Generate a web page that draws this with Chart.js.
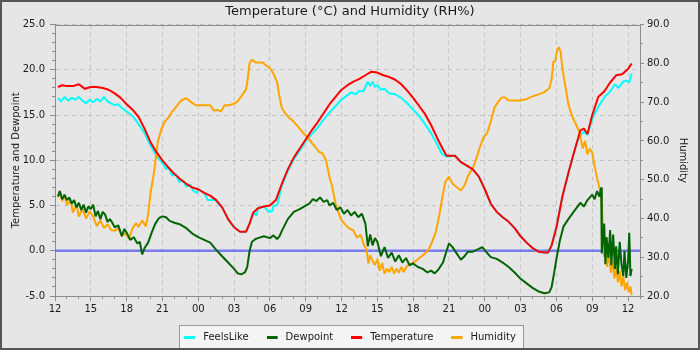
<!DOCTYPE html>
<html>
<head>
<meta charset="utf-8">
<title>Temperature and Humidity</title>
<script src="https://cdn.jsdelivr.net/npm/chart.js@4.4.1/dist/chart.umd.min.js"></script>
<style>
  html, body { margin: 0; padding: 0; background: #e6e6e6; }
  #frame { width: 700px; height: 350px; box-sizing: border-box; border: 2px solid #555; background: #e6e6e6; }
  canvas { display: block; }
</style>
</head>
<body>
<div id="frame"><canvas id="wx" width="696" height="346"></canvas></div>
<script>
// [hours since 12:00 on day one, value]
const feelsLike = [
  [0.25,16.9],[0.5,16.5],[0.8,17.0],[1.1,16.6],[1.4,16.9],[1.7,16.7],[2.0,17.0],[2.3,16.6],[2.6,16.3],[2.9,16.7],
  [3.2,16.4],[3.5,16.8],[3.8,16.5],[4.1,17.0],[4.4,16.5],[4.7,16.3],[5.0,16.1],[5.3,16.2],[5.6,15.8],[6.0,15.4],
  [6.5,14.9],[7.0,14.0],[7.5,13.0],[8.0,11.6],[8.5,10.5],[9.0,9.7],[9.3,9.0],[9.5,9.3],[9.8,8.3],[10.1,8.5],
  [10.4,7.6],[10.7,7.8],[11.0,7.1],[11.3,7.3],[11.6,6.6],[11.9,6.4],[12.0,6.8],[12.5,6.4],[12.8,5.6],[13.2,5.6],
  [13.4,5.6],[14.0,4.8],[14.5,3.5],[15.0,2.6],[15.5,2.1],[16.0,2.1],[16.3,3.0],[16.6,4.2],[16.9,3.9],[17.0,4.7],
  [17.5,4.9],[17.9,4.3],[18.2,4.4],[18.3,5.0],[18.6,5.0],[19.0,7.2],[19.5,8.8],[20.0,10.1],[20.5,11.1],[21.0,12.1],
  [21.5,12.9],[22.0,13.6],[22.5,14.5],[23.0,15.3],[23.5,16.0],[24.0,16.7],[24.5,17.2],[24.8,17.5],[25.2,17.3],[25.5,17.7],
  [25.8,17.6],[26.0,18.1],[26.2,18.7],[26.4,18.2],[26.6,18.7],[26.8,18.1],[27.0,18.3],[27.3,17.8],[27.6,17.9],[28.0,17.4],
  [28.5,17.3],[29.0,16.9],[29.5,16.3],[30.0,15.6],[30.5,14.9],[31.0,14.0],[31.5,13.0],[32.0,11.8],[32.4,10.7],[32.8,10.4],
  [33.5,10.5],[34.0,9.8],[34.5,9.4],[35.0,9.0],[35.5,8.2],[36.0,6.8],[36.5,5.2],[37.0,4.3],[37.5,3.7],[38.0,3.2],
  [38.5,2.5],[39.0,1.6],[39.5,0.9],[40.0,0.3],[40.5,-0.1],[41.0,-0.2],[41.3,-0.2],[41.6,0.6],[42.0,2.6],[42.5,6.0],
  [43.0,8.6],[43.5,11.0],[43.9,12.6],[44.3,13.2],[44.6,12.8],[45.0,14.6],[45.3,15.4],[45.7,16.3],[46.1,17.1],[46.5,17.6],
  [46.9,18.4],[47.2,18.0],[47.6,18.7],[47.9,18.8],[48.1,18.6],[48.3,19.6]
];

const dewpoint = [
  [0.25,6.0],[0.4,6.6],[0.6,5.7],[0.8,6.2],[1.0,5.6],[1.2,5.9],[1.4,5.2],[1.6,5.6],[1.8,4.8],[2.0,5.3],
  [2.2,4.5],[2.4,5.1],[2.6,4.2],[2.8,4.9],[3.0,4.6],[3.2,5.1],[3.4,3.8],[3.6,4.4],[3.8,3.5],[4.0,4.3],
  [4.2,4.0],[4.4,3.2],[4.6,3.5],[4.8,3.1],[5.0,2.6],[5.3,2.8],[5.6,1.6],[5.8,2.4],[6.0,2.0],[6.3,1.2],
  [6.6,1.5],[6.9,0.8],[7.1,1.0],[7.3,-0.4],[7.5,0.3],[7.8,0.9],[8.1,2.0],[8.4,3.0],[8.7,3.6],[9.0,3.8],
  [9.3,3.7],[9.6,3.3],[10.0,3.1],[10.5,2.9],[11.0,2.5],[11.5,1.9],[12.0,1.5],[12.5,1.2],[13.0,0.9],[13.5,0.1],
  [14.0,-0.6],[14.5,-1.3],[15.0,-2.0],[15.3,-2.5],[15.6,-2.6],[15.9,-2.4],[16.1,-1.8],[16.3,0.0],[16.5,1.0],[16.8,1.3],
  [17.0,1.4],[17.5,1.6],[18.0,1.4],[18.3,1.7],[18.6,1.3],[18.8,1.6],[19.0,2.2],[19.5,3.5],[20.0,4.3],[20.5,4.6],
  [21.0,5.0],[21.3,5.2],[21.6,5.7],[21.9,5.5],[22.2,5.9],[22.5,5.4],[22.8,5.6],[23.0,5.0],[23.3,5.3],[23.6,4.5],
  [23.9,4.8],[24.2,4.1],[24.5,4.5],[24.8,3.9],[25.1,4.3],[25.4,3.7],[25.7,4.1],[26.0,3.0],[26.2,0.5],[26.4,1.8],
  [26.6,0.6],[26.8,1.4],[27.0,1.0],[27.3,-0.6],[27.6,0.4],[27.9,-0.8],[28.2,-0.2],[28.5,-1.2],[28.8,-0.5],[29.1,-1.3],
  [29.4,-0.8],[29.7,-1.6],[30.0,-1.4],[30.4,-1.8],[30.8,-2.0],[31.2,-2.4],[31.5,-2.2],[31.8,-2.5],[32.1,-2.1],[32.5,-1.3],
  [32.8,0.0],[33.0,0.8],[33.3,0.4],[33.6,-0.2],[34.0,-1.0],[34.3,-0.6],[34.6,-0.1],[35.0,-0.1],[35.5,0.2],[35.8,0.4],
  [36.1,-0.1],[36.5,-0.7],[37.0,-0.9],[37.5,-1.3],[38.0,-1.8],[38.5,-2.4],[39.0,-3.1],[39.5,-3.6],[40.0,-4.1],[40.5,-4.5],
  [41.0,-4.7],[41.4,-4.6],[41.6,-4.0],[41.8,-2.5],[42.0,-0.9],[42.3,1.2],[42.6,2.7],[43.0,3.5],[43.5,4.4],[44.0,5.3],
  [44.3,4.9],[44.6,5.6],[45.0,6.2],[45.2,5.7],[45.4,6.6],[45.6,6.0],[45.75,7.0],[45.8,-0.3],[46.0,3.0],[46.1,-1.5],
  [46.2,1.5],[46.35,-0.8],[46.5,2.3],[46.6,-1.6],[46.75,1.8],[46.9,-2.0],[47.0,0.5],[47.15,-2.6],[47.3,1.0],[47.45,-1.5],
  [47.6,-2.8],[47.7,0.0],[47.85,-3.0],[48.0,-1.2],[48.1,2.0],[48.2,-2.8],[48.3,-2.0]
];

const temperature = [
  [0.25,18.1],[0.6,18.3],[1.0,18.2],[1.5,18.2],[2.0,18.4],[2.5,17.9],[3.0,18.1],[3.5,18.1],[4.0,18.0],[4.5,17.8],
  [5.0,17.4],[5.5,16.9],[6.0,16.2],[6.5,15.6],[7.0,14.8],[7.5,13.5],[8.0,12.0],[8.5,10.9],[9.0,10.0],[9.5,9.2],
  [10.0,8.5],[10.5,7.9],[11.0,7.4],[11.5,7.0],[12.0,6.8],[12.5,6.4],[13.0,6.1],[13.5,5.6],[14.0,4.8],[14.5,3.5],
  [15.0,2.6],[15.5,2.1],[16.0,2.1],[16.3,3.0],[16.6,4.2],[17.0,4.7],[17.5,4.9],[18.0,5.0],[18.5,5.6],[19.0,7.4],
  [19.5,9.0],[20.0,10.3],[20.5,11.3],[21.0,12.3],[21.5,13.3],[22.0,14.2],[22.5,15.2],[23.0,16.2],[23.5,17.0],[24.0,17.8],
  [24.5,18.3],[25.0,18.7],[25.5,19.0],[26.0,19.4],[26.5,19.8],[27.0,19.7],[27.5,19.4],[28.0,19.2],[28.5,18.9],[29.0,18.4],
  [29.5,17.7],[30.0,16.9],[30.5,16.0],[31.0,15.1],[31.5,13.9],[32.0,12.5],[32.5,11.2],[32.8,10.5],[33.5,10.5],[34.0,9.8],
  [34.5,9.4],[35.0,9.0],[35.5,8.2],[36.0,6.8],[36.5,5.2],[37.0,4.3],[37.5,3.7],[38.0,3.2],[38.5,2.5],[39.0,1.6],
  [39.5,0.9],[40.0,0.3],[40.5,-0.1],[41.0,-0.2],[41.3,-0.2],[41.6,0.6],[42.0,2.6],[42.5,6.0],[43.0,8.6],[43.5,11.0],
  [44.0,13.3],[44.3,13.5],[44.6,12.9],[45.0,15.0],[45.5,17.0],[46.0,17.6],[46.5,18.6],[47.0,19.4],[47.5,19.5],[48.0,20.1],
  [48.3,20.7]
];

const humidity = [
  [0.25,45.5],[0.4,47.0],[0.6,44.5],[0.8,46.0],[1.0,43.5],[1.3,44.8],[1.5,41.5],[1.8,43.5],[2.0,40.5],[2.3,42.5],
  [2.6,40.0],[2.9,41.8],[3.2,40.5],[3.5,38.0],[3.8,39.5],[4.1,37.5],[4.4,38.5],[4.7,37.0],[5.0,36.8],[5.3,37.5],
  [5.6,35.5],[5.9,36.2],[6.2,34.8],[6.5,37.5],[6.8,38.8],[7.0,37.8],[7.3,39.5],[7.6,38.0],[7.8,41.0],[8.0,46.5],
  [8.3,52.0],[8.6,59.5],[8.9,63.0],[9.2,65.0],[9.5,66.0],[9.8,67.5],[10.2,69.0],[10.6,70.5],[11.0,71.0],[11.4,70.0],
  [11.8,69.2],[13.0,69.2],[13.3,67.8],[13.6,68.0],[13.9,67.6],[14.2,69.2],[14.6,69.2],[15.0,69.6],[15.3,70.2],[15.6,71.5],
  [16.0,73.3],[16.1,75.0],[16.3,80.0],[16.5,81.0],[16.8,80.2],[17.4,80.2],[17.7,79.4],[18.0,78.8],[18.3,77.3],[18.6,75.2],
  [18.8,71.5],[19.0,68.5],[19.3,67.0],[19.6,66.0],[20.0,65.0],[20.4,63.5],[20.8,62.0],[21.2,60.8],[21.5,59.5],[21.8,58.5],
  [22.1,57.2],[22.4,56.8],[22.7,55.0],[23.0,50.5],[23.2,48.5],[23.5,43.8],[23.8,41.0],[24.0,39.5],[24.3,38.5],[24.6,37.5],
  [25.0,36.9],[25.3,35.0],[25.6,35.8],[25.9,33.0],[26.1,32.0],[26.25,28.4],[26.4,30.5],[26.6,29.0],[26.8,28.0],[27.0,29.5],
  [27.2,26.5],[27.4,28.5],[27.6,25.8],[27.8,27.0],[28.0,26.2],[28.2,27.5],[28.4,25.8],[28.6,27.0],[28.8,26.0],[29.0,27.5],
  [29.2,26.2],[29.5,27.8],[29.8,28.2],[30.0,28.6],[30.3,29.2],[30.6,30.0],[31.0,31.0],[31.3,32.0],[31.6,34.0],[31.9,36.5],
  [32.2,41.0],[32.5,46.5],[32.7,49.5],[33.0,50.8],[33.3,49.0],[33.6,48.2],[34.0,47.2],[34.3,48.5],[34.6,51.0],[35.0,53.0],
  [35.3,55.5],[35.6,58.5],[35.9,61.0],[36.2,62.0],[36.5,65.0],[36.8,68.5],[37.1,70.0],[37.4,71.2],[37.7,71.2],[38.0,70.4],
  [39.0,70.4],[39.5,70.8],[40.0,71.5],[40.5,72.0],[41.0,72.6],[41.4,73.6],[41.6,76.0],[41.75,80.5],[41.9,80.5],[42.05,83.3],
  [42.2,84.2],[42.35,83.0],[42.5,78.8],[42.7,75.0],[43.0,69.5],[43.3,66.5],[43.6,64.5],[43.9,62.5],[44.2,58.0],[44.4,60.0],
  [44.6,56.5],[44.8,58.0],[45.0,57.0],[45.2,53.5],[45.4,50.5],[45.6,48.0],[45.8,44.0],[45.9,36.0],[46.0,30.0],[46.1,34.0],
  [46.25,27.5],[46.4,31.5],[46.55,26.0],[46.7,29.0],[46.85,24.5],[47.0,27.5],[47.15,23.5],[47.3,26.5],[47.45,22.5],[47.6,25.0],
  [47.75,21.5],[47.9,23.5],[48.05,21.0],[48.2,22.5],[48.3,20.2]
];

// freezing reference line
const zeroLine = [[0, 0], [49, 0]];

const hourTicks  = [0, 3, 6, 9, 12, 15, 18, 21, 24, 27, 30, 33, 36, 39, 42, 45, 48];
const hourLabels = ['12','15','18','21','00','03','06','09','12','15','18','21','00','03','06','09','12'];
const tempTicks  = [-5, 0, 5, 10, 15, 20, 25];
const rhTicks    = [20, 30, 40, 50, 60, 70, 80, 90];

const FONT = 'DejaVu Sans';
const TEXT = '#1a1a1a';
const AXIS = '#8c8c8c';
const GRID = '#c2c2c2';

Chart.defaults.font.family = FONT;
Chart.defaults.font.size = 10;
Chart.defaults.color = TEXT;

const toPoints = rows => rows.map(([x, y]) => ({x, y}));

// short thick line used as the legend marker
function swatch(color) {
  const c = document.createElement('canvas');
  c.width = 14; c.height = 4;
  const g = c.getContext('2d');
  g.fillStyle = color;
  g.fillRect(0, 1, 11, 3);
  return c;
}

// light box behind the legend, and the frame round the plot
const boxes = {
  id: 'boxes',
  beforeDraw(chart) {
    const hb = chart.legend && chart.legend.legendHitBoxes;
    if (!hb || !hb.length) return;
    const last = hb[hb.length - 1];
    const left = Math.round(hb[0].left) - 4.5;
    const right = Math.round(last.left + last.width) + 7.5;
    const top = Math.round(hb[0].top) - 6.5;
    const ctx = chart.ctx;
    ctx.save();
    ctx.fillStyle = '#f4f4f4';
    ctx.strokeStyle = '#9a9a9a';
    ctx.lineWidth = 1;
    ctx.fillRect(left, top, right - left, chart.height - top + 2);
    ctx.strokeRect(left, top, right - left, chart.height - top + 2);
    ctx.restore();
  },
  beforeDatasetsDraw(chart) {
    const {ctx, chartArea: a} = chart;
    ctx.save();
    ctx.strokeStyle = AXIS;
    ctx.lineWidth = 1;
    ctx.strokeRect(Math.round(a.left) + 0.5, Math.round(a.top) + 0.5,
                   Math.round(a.right - a.left), Math.round(a.bottom - a.top));
    ctx.restore();
  }
};

// short unlabelled ticks between the labelled ones
const minorTicks = {
  id: 'minorTicks',
  afterDraw(chart) {
    const {ctx, chartArea: a, scales} = chart;
    const px = v => Math.round(v - 0.5) + 0.5;
    ctx.save();
    ctx.strokeStyle = AXIS;
    ctx.lineWidth = 1;
    ctx.beginPath();
    for (let h = 0; h <= 49; h++) {
      const x = px(scales.x.getPixelForValue(h));
      ctx.moveTo(x, a.bottom); ctx.lineTo(x, a.bottom + 3);
    }
    for (let v = -5; v <= 25; v++) {
      const y = px(scales.y.getPixelForValue(v));
      ctx.moveTo(a.left - 3, y); ctx.lineTo(a.left, y);
    }
    for (let v = 20; v <= 90; v += 5) {
      const y = px(scales.y1.getPixelForValue(v));
      ctx.moveTo(a.right, y); ctx.lineTo(a.right + 3, y);
    }
    ctx.stroke();
    ctx.restore();
  }
};

const line = (label, rows, color, axis, order) => ({
  label, data: toPoints(rows), yAxisID: axis, order,
  borderColor: color, backgroundColor: color,
  borderWidth: 2, pointRadius: 0, tension: 0, fill: false, borderJoinStyle: 'bevel'
});

new Chart(document.getElementById('wx'), {
  type: 'line',
  data: {
    datasets: [
      line('FeelsLike', feelsLike, '#00ffff', 'y', 4),
      line('Dewpoint', dewpoint, '#006400', 'y', 1),
      line('Temperature', temperature, '#ff0000', 'y', 2),
      line('Humidity', humidity, '#ffa500', 'y1', 3),
      Object.assign(line('zero', zeroLine, 'rgba(90, 90, 245, 0.75)', 'y', 5), {borderWidth: 2.5})
    ]
  },
  options: {
    responsive: false,
    animation: false,
    events: [],
    layout: { padding: { bottom: -4 } },
    plugins: {
      title: {
        display: true,
        text: 'Temperature (°C) and Humidity (RH%)',
        color: TEXT,
        font: { family: FONT, size: 13, weight: 'normal' },
        padding: { top: 2, bottom: 5 }
      },
      legend: {
        position: 'bottom',
        labels: {
          usePointStyle: true,
          pointStyleWidth: 14,
          padding: 18,
          color: TEXT,
          font: { size: 10 },
          sort: (a, b) => a.datasetIndex - b.datasetIndex,
          generateLabels: chart => chart.data.datasets
            .map((ds, i) => ({
              text: ds.label, datasetIndex: i, hidden: false,
              fillStyle: ds.borderColor, strokeStyle: ds.borderColor, lineWidth: 0,
              pointStyle: swatch(ds.borderColor), fontColor: TEXT
            }))
            .filter(item => item.text !== 'zero')
        }
      },
      tooltip: { enabled: false }
    },
    scales: {
      x: {
        type: 'linear', min: 0, max: 49,
        afterBuildTicks: s => { s.ticks = hourTicks.map(value => ({value})); },
        // the legend block is tall because of its item spacing, so the axis box is kept short
        afterFit: s => { s.height = 18; },
        ticks: { callback: (v, i) => hourLabels[i], maxRotation: 0, autoSkip: false, padding: 2, color: TEXT },
        grid: { color: GRID, tickColor: AXIS, tickLength: 5 },
        border: { color: AXIS, dash: [4, 4] }
      },
      y: {
        position: 'left', min: -5, max: 25,
        afterBuildTicks: s => { s.ticks = tempTicks.map(value => ({value})); },
        afterFit: s => { s.width = 53; },
        ticks: { callback: v => v.toFixed(1), padding: 5, color: TEXT },
        grid: { color: GRID, tickColor: AXIS, tickLength: 5 },
        border: { color: AXIS, dash: [4, 4] },
        title: { display: true, text: 'Temperature and Dewpoint', color: TEXT, font: { size: 10 }, padding: { top: 8, bottom: 0 } }
      },
      y1: {
        position: 'right', min: 20, max: 90,
        afterBuildTicks: s => { s.ticks = rhTicks.map(value => ({value})); },
        afterFit: s => { s.width = 58; },
        ticks: { callback: v => v.toFixed(1), padding: 3, color: TEXT },
        grid: { drawOnChartArea: false, tickColor: AXIS, tickLength: 4 },
        border: { color: AXIS },
        title: { display: true, text: 'Humidity', color: TEXT, font: { size: 10 }, padding: { top: 9, bottom: 0 } }
      }
    }
  },
  plugins: [boxes, minorTicks]
});
</script>
</body>
</html>
